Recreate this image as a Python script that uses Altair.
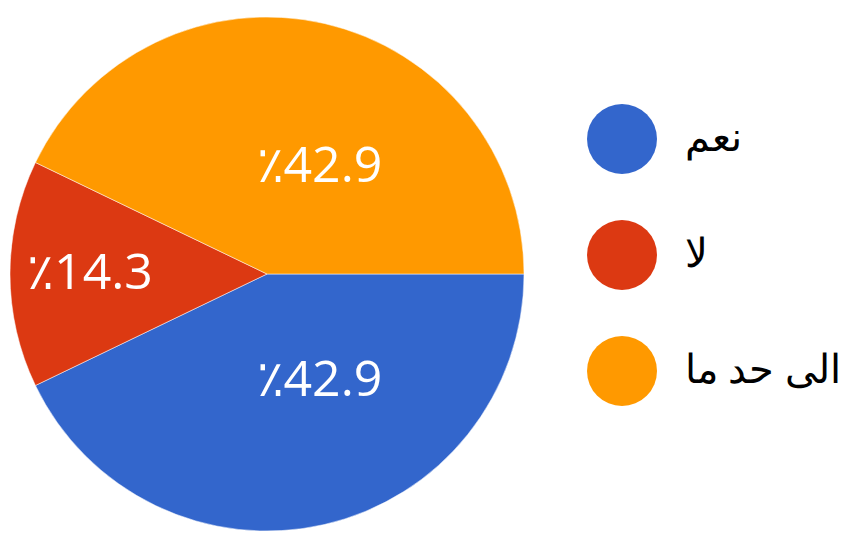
import math
import altair as alt
import pandas as pd

categories = ["نعم", "لا", "الى حد ما"]
values = [42.9, 14.3, 42.9]
labels = ["٪42.9", "٪14.3", "٪42.9"]
colors = ["#3366CC", "#DC3912", "#FF9900"]

df = pd.DataFrame({"cat": categories, "value": values, "label": labels, "idx": list(range(len(categories)))})

theta = alt.Theta("value:Q", stack=True,
                  scale=alt.Scale(range=[math.pi / 2, math.pi / 2 + 2 * math.pi]))
order = alt.Order("idx:Q")

pie = alt.Chart(df).mark_arc(outerRadius=257, stroke="white", strokeWidth=0.5).encode(
    theta=theta,
    order=order,
    color=alt.Color("cat:N", scale=alt.Scale(domain=categories, range=colors),
                    legend=alt.Legend(title=None, orient="none", legendX=579, legendY=96,
                                      symbolType="circle", symbolSize=4900,
                                      symbolStrokeWidth=0, labelFontSize=40,
                                      labelFont="Noto Sans", labelColor="#000000",
                                      labelOffset=28, rowPadding=46, labelLimit=400,
                                      padding=0)),
)

text = alt.Chart(df).mark_text(fontSize=50, font="Open Sans", color="white",
                               align="center", baseline="middle", dx=28).encode(
    theta=theta,
    order=order,
    radius=alt.Radius("value:Q", scale=alt.Scale(type="linear", zero=False,
                                                 domain=[14.3, 42.9], range=[205, 110])),
    text="label:N",
)

chart = (pie + text).properties(
    width=518, height=532, padding=0, background="white"
).configure_view(stroke=None)

chart.save("out.html", embed_options={"renderer": "svg", "actions": False})
